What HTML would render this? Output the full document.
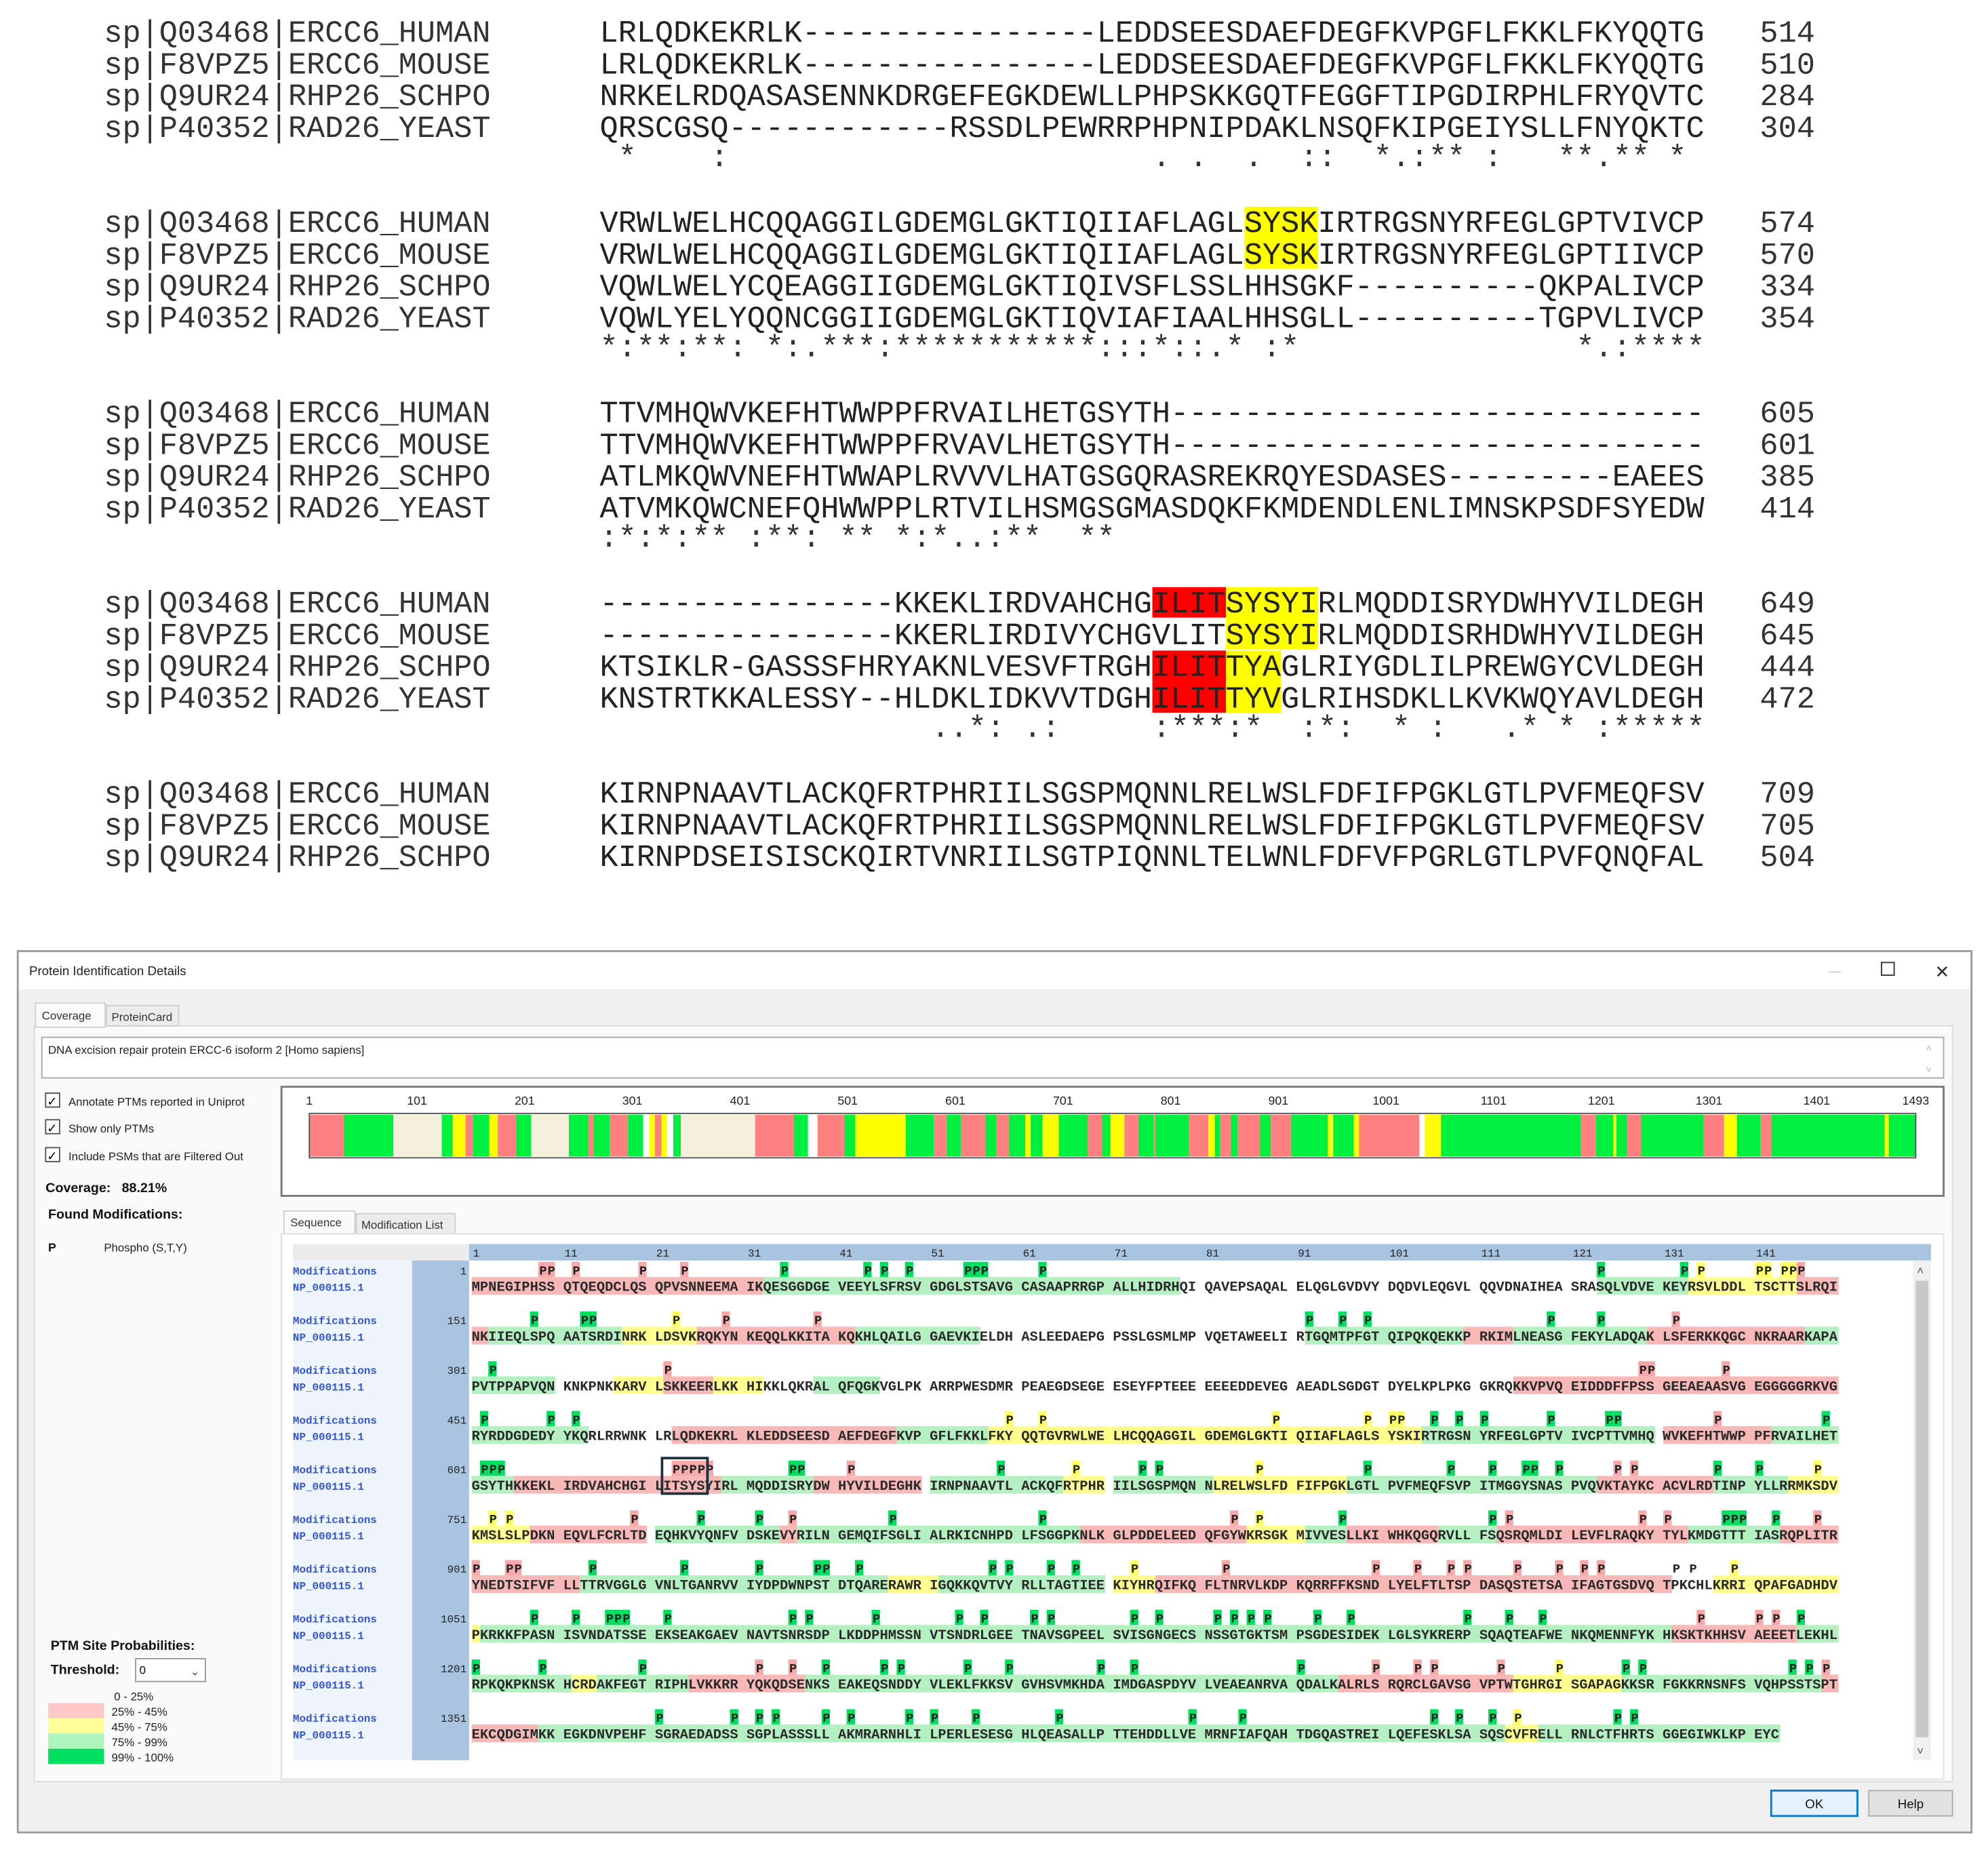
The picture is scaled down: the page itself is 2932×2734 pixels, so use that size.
<!DOCTYPE html>
<html><head><meta charset="utf-8">
<style>
html,body{margin:0;padding:0;background:#fff;}
svg{display:block;}
.mono{font-family:"Liberation Mono",monospace;}
.sans{font-family:"Liberation Sans",sans-serif;}
</style></head>
<body>
<svg id="root" xmlns="http://www.w3.org/2000/svg" width="2932" height="2734" viewBox="0 0 1568 1462" preserveAspectRatio="none">
<rect x="0" y="0" width="1568" height="1462" fill="#fff"/>
<g id="align"></g>
<g id="win">
  <rect x="14" y="750" width="1541" height="695" fill="#f0f0f0" stroke="#9a9a9a" stroke-width="1.5"/>
  <rect x="15" y="751" width="1539" height="29" fill="#fff"/>
  <text x="23" y="769" font-size="10" class="sans" fill="#222">Protein Identification Details</text>
  <text x="1442" y="769" font-size="10" class="sans" fill="#bbb">—</text>
  <rect x="1484" y="759" width="10" height="10" fill="none" stroke="#333"/>
  <text x="1526" y="771" font-size="14" class="sans" fill="#333">✕</text>
  <rect x="27" y="809" width="1513" height="596" fill="#fafafa" stroke="#dadada"/>
  <rect x="28" y="791" width="55" height="19" fill="#fafafa" stroke="#cfcfcf"/>
  <text x="33" y="804" font-size="9" class="sans" fill="#333">Coverage</text>
  <rect x="84" y="793" width="57" height="16" fill="#ececec" stroke="#cfcfcf"/>
  <text x="88" y="805" font-size="9" class="sans" fill="#333">ProteinCard</text>
  <rect x="33" y="818" width="1500" height="32" fill="#fff" stroke="#a8a8a8"/>
  <text x="38" y="831" font-size="9" class="sans" fill="#222">DNA excision repair protein ERCC-6 isoform 2 [Homo sapiens]</text>
  <text x="1519" y="829" font-size="8" class="sans" fill="#bbb">˄</text>
  <text x="1519" y="846" font-size="8" class="sans" fill="#bbb">˅</text>
  <g><rect x="36" y="862" width="11" height="11" fill="#fff" stroke="#555"/><text x="37" y="872" font-size="10" class="sans">✓</text><text x="54" y="872" font-size="9" class="sans" fill="#222">Annotate PTMs reported in Uniprot</text></g>
  <g><rect x="36" y="883" width="11" height="11" fill="#fff" stroke="#555"/><text x="37" y="893" font-size="10" class="sans">✓</text><text x="54" y="893" font-size="9" class="sans" fill="#222">Show only PTMs</text></g>
  <g><rect x="36" y="905" width="11" height="11" fill="#fff" stroke="#555"/><text x="37" y="915" font-size="10" class="sans">✓</text><text x="54" y="915" font-size="9" class="sans" fill="#222">Include PSMs that are Filtered Out</text></g>
  <text x="36" y="940" font-size="10.5" font-weight="bold" class="sans" fill="#111">Coverage:&#160;&#160;&#160;88.21%</text>
  <text x="38" y="961" font-size="10.5" font-weight="bold" class="sans" fill="#111">Found Modifications:</text>
  <text x="38" y="987" font-size="9.5" font-weight="bold" class="sans" fill="#111">P</text>
  <text x="82" y="987" font-size="9" class="sans" fill="#222">Phospho (S,T,Y)</text>
  <text x="40" y="1301" font-size="10.5" font-weight="bold" class="sans" fill="#111">PTM Site Probabilities:</text>
  <text x="40" y="1320" font-size="10.5" font-weight="bold" class="sans" fill="#111">Threshold:</text>
  <rect x="107" y="1308" width="55" height="18" fill="#fff" stroke="#999"/>
  <text x="110" y="1320" font-size="9" class="sans">0</text>
  <text x="150" y="1321" font-size="9" class="sans" fill="#555">⌄</text>
  <g>
    <text x="90" y="1341" font-size="9" class="sans" fill="#222">0 - 25%</text>
    <rect x="38" y="1343" width="44" height="12" fill="#ffc8c8"/><text x="88" y="1353" font-size="9" class="sans" fill="#222">25% - 45%</text>
    <rect x="38" y="1355" width="44" height="12" fill="#ffff99"/><text x="88" y="1365" font-size="9" class="sans" fill="#222">45% - 75%</text>
    <rect x="38" y="1367" width="44" height="12" fill="#aef5be"/><text x="88" y="1377" font-size="9" class="sans" fill="#222">75% - 99%</text>
    <rect x="38" y="1379" width="44" height="12" fill="#00e060"/><text x="88" y="1389" font-size="9" class="sans" fill="#222">99% - 100%</text>
  </g>
  <rect x="222" y="857" width="1311" height="86" fill="#fff" stroke="#777" stroke-width="1.5"/>
  <g id="cov"></g>
  <rect x="224" y="955" width="56" height="18" fill="#fafafa" stroke="#cfcfcf"/>
  <text x="229" y="967" font-size="9" class="sans" fill="#333">Sequence</text>
  <rect x="281" y="957" width="78" height="16" fill="#ececec" stroke="#cfcfcf"/>
  <text x="285" y="969" font-size="9" class="sans" fill="#333">Modification List</text>
  <rect x="222" y="973" width="1311" height="430" fill="#fff" stroke="#ddd"/>
  <rect x="231" y="981" width="139" height="13" fill="#ececec"/>
  <rect x="370" y="981" width="1153" height="13" fill="#a8c4e0"/>
  <rect x="231" y="994" width="94" height="394" fill="#eef5fc"/>
  <rect x="325" y="994" width="45" height="394" fill="#a8c4e0"/>
  <rect x="1509" y="994" width="14" height="394" fill="#f0f0f0"/>
  <rect x="1511" y="1010" width="10" height="360" fill="#c8c8c8"/>
  <text x="1512" y="1005" font-size="9" class="sans" fill="#555">˄</text>
  <text x="1512" y="1384" font-size="9" class="sans" fill="#555">˅</text>
  <g id="seq"></g>
  <rect x="1397" y="1412" width="68" height="20" fill="#e5f1fb" stroke="#0078d7" stroke-width="1.5"/>
  <text x="1431" y="1426" font-size="10" class="sans" text-anchor="middle" fill="#111">OK</text>
  <rect x="1474" y="1412" width="66" height="20" fill="#e1e1e1" stroke="#adadad"/>
  <text x="1507" y="1426" font-size="10" class="sans" text-anchor="middle" fill="#111">Help</text>
</g>
</svg>
<script>
var NS="http://www.w3.org/2000/svg";
function mk(tag,attrs,parent,txt){var e=document.createElementNS(NS,tag);for(var k in attrs)e.setAttribute(k,attrs[k]);if(txt!==undefined)e.textContent=txt;parent.appendChild(e);return e;}

/* ---------- alignment data ---------- */
var blockNames=[
 ["sp|Q03468|ERCC6_HUMAN","sp|F8VPZ5|ERCC6_MOUSE","sp|Q9UR24|RHP26_SCHPO","sp|P40352|RAD26_YEAST"],
 ["sp|Q03468|ERCC6_HUMAN","sp|F8VPZ5|ERCC6_MOUSE","sp|Q9UR24|RHP26_SCHPO","sp|P40352|RAD26_YEAST"],
 ["sp|Q03468|ERCC6_HUMAN","sp|F8VPZ5|ERCC6_MOUSE","sp|Q9UR24|RHP26_SCHPO","sp|P40352|RAD26_YEAST"],
 ["sp|Q03468|ERCC6_HUMAN","sp|F8VPZ5|ERCC6_MOUSE","sp|Q9UR24|RHP26_SCHPO","sp|P40352|RAD26_YEAST"],
 ["sp|Q03468|ERCC6_HUMAN","sp|F8VPZ5|ERCC6_MOUSE","sp|Q9UR24|RHP26_SCHPO"]];
var blockSeqs=[
 ["LRLQDKEKRLK----------------LEDDSEESDAEFDEGFKVPGFLFKKLFKYQQTG","LRLQDKEKRLK----------------LEDDSEESDAEFDEGFKVPGFLFKKLFKYQQTG","NRKELRDQASASENNKDRGEFEGKDEWLLPHPSKKGQTFEGGFTIPGDIRPHLFRYQVTC","QRSCGSQ------------RSSDLPEWRRPHPNIPDAKLNSQFKIPGEIYSLLFNYQKTC"],
 ["VRWLWELHCQQAGGILGDEMGLGKTIQIIAFLAGLSYSKIRTRGSNYRFEGLGPTVIVCP","VRWLWELHCQQAGGILGDEMGLGKTIQIIAFLAGLSYSKIRTRGSNYRFEGLGPTIIVCP","VQWLWELYCQEAGGIIGDEMGLGKTIQIVSFLSSLHHSGKF----------QKPALIVCP","VQWLYELYQQNCGGIIGDEMGLGKTIQVIAFIAALHHSGLL----------TGPVLIVCP"],
 ["TTVMHQWVKEFHTWWPPFRVAILHETGSYTH-----------------------------","TTVMHQWVKEFHTWWPPFRVAVLHETGSYTH-----------------------------","ATLMKQWVNEFHTWWAPLRVVVLHATGSGQRASREKRQYESDASES---------EAEES","ATVMKQWCNEFQHWWPPLRTVILHSMGSGMASDQKFKMDENDLENLIMNSKPSDFSYEDW"],
 ["----------------KKEKLIRDVAHCHGILITSYSYIRLMQDDISRYDWHYVILDEGH","----------------KKERLIRDIVYCHGVLITSYSYIRLMQDDISRHDWHYVILDEGH","KTSIKLR-GASSSFHRYAKNLVESVFTRGHILITTYAGLRIYGDLILPREWGYCVLDEGH","KNSTRTKKALESSY--HLDKLIDKVVTDGHILITTYVGLRIHSDKLLKVKWQYAVLDEGH"],
 ["KIRNPNAAVTLACKQFRTPHRIILSGSPMQNNLRELWSLFDFIFPGKLGTLPVFMEQFSV","KIRNPNAAVTLACKQFRTPHRIILSGSPMQNNLRELWSLFDFIFPGKLGTLPVFMEQFSV","KIRNPDSEISISCKQIRTVNRIILSGTPIQNNLTELWNLFDFVFPGRLGTLPVFQNQFAL"]];
var blockEnds=[["514","510","284","304"],["574","570","334","354"],["605","601","385","414"],["649","645","444","472"],["709","705","504"]];
var blockCons=[
 [[1,"*"],[6,":"],[30,"."],[32,"."],[35,"."],[38,"::"],[42,"*.:**"],[48,":"],[52,"**.**"],[58,"*"]],
 [[0,"*:**:**: *:.***:***********:::*::.* :*"],[53,"*.:****"]],
 [[0,":*:*:** :**: ** *:*..:**  **"]],
 [[18,"..*: .:"],[30,":***:*"],[38,":*:"],[43,"*"],[45,":"],[49,".*"],[52,"*"],[54,":*****"]],
 null];
/* highlights: [block, rowFrom, rowTo, colFrom, colTo, color] */
var highlights=[[1,0,1,35,38,"#ffff00"],[3,0,0,30,33,"#ff0000"],[3,2,3,30,33,"#ff0000"],[3,0,1,34,38,"#ffff00"],[3,2,3,34,36,"#ffff00"]];

var A=document.getElementById('align');
var CW=14.53, X0=473, blockTop=[25,175,325,475,625], rowH=25;
function colX(c){return X0+c*CW;}
highlights.forEach(function(h){
  var r=mk('rect',{x:colX(h[3]),y:blockTop[h[0]]+h[1]*rowH-12,width:(h[4]-h[3]+1)*CW,height:(h[2]-h[1]+1)*rowH-1,fill:h[5]},A);
  
  
});
blockNames.forEach(function(names,b){
  names.forEach(function(n,i){
    var y=blockTop[b]+i*rowH+8;
    var t1=mk('text',{x:82,y:y,'font-size':24.2,'class':'mono',fill:'#333'},A,n);
    
    
    var t2=mk('text',{x:X0,y:y,'font-size':24.2,'class':'mono',fill:'#222'},A,blockSeqs[b][i]);
    
    
    var t3=mk('text',{x:1388,y:y,'font-size':24.2,'class':'mono',fill:'#333'},A,blockEnds[b][i]);
    
    
  });
  if(blockCons[b]){
    var y=blockTop[b]+4*rowH+6;
    blockCons[b].forEach(function(c){
      var t=mk('text',{x:colX(c[0]),y:y,'font-size':24.2,'class':'mono',fill:'#333','xml:space':'preserve'},A,c[1]);
      t.setAttribute('style','white-space:pre');
      
      
    });
  }
});

/* ---------- coverage map data ---------- */
var segStarts=[1,33,79,124,134,146,153,168,176,193,207,242,260,265,280,297,311,317,322,328,333,339,346,415,451,464,473,498,508,555,581,593,606,629,639,651,666,671,682,697,724,737,745,758,771,785,787,818,836,842,847,857,863,884,894,913,947,952,971,976,1032,1037,1052,1182,1196,1212,1215,1225,1238,1296,1315,1327,1349,1359,1464,1468];
var segTypes=["S","G","B","G","Y","S","G","Y","S","G","B","G","S","G","S","G","W","Y","S","Y","W","G","B","S","G","W","S","G","Y","G","S","G","S","G","S","G","Y","G","Y","G","S","G","Y","S","G","S","G","S","Y","G","S","G","S","G","S","G","Y","G","Y","S","W","Y","G","S","G","Y","G","S","G","S","Y","G","S","G","Y","G"];
var seqLength=1493;
var covTicks=[1,101,201,301,401,501,601,701,801,901,1001,1101,1201,1301,1401,1493];
var strong={S:"#ff8080",G:"#00f040",Y:"#ffff00",B:"#f3f1dc",W:"#ffffff"};
var light={S:"#f8b8b8",G:"#b4f0c2",Y:"#ffff90",B:null,W:null};
function covX(r){return 244+(r-1)/(seqLength-1)*1267;}
function typeAt(r){var t="B";for(var i=0;i<segStarts.length;i++){if(segStarts[i]<=r)t=segTypes[i];}return t;}
var C=document.getElementById('cov');
covTicks.forEach(function(t){
  var l=mk('text',{x:covX(t),y:871,'font-size':9.5,'class':'sans','text-anchor':'middle',fill:'#222'},C,String(t));
  
  
});
segStarts.forEach(function(s,i){
  var e=(i+1<segStarts.length?segStarts[i+1]:seqLength);
  var r=mk('rect',{x:covX(s),y:879,width:Math.max(0.5,covX(e)-covX(s)),height:33,fill:strong[segTypes[i]]},C);
  
  
});
mk('rect',{x:244,y:878,width:1267,height:35,fill:'none',stroke:'#555','stroke-width':1},C);

/* ---------- sequence view ---------- */
var sequence="MPNEGIPHSSQTQEQDCLQSQPVSNNEEMAIKQESGGDGEVEEYLSFRSVGDGLSTSAVGCASAAPRRGPALLHIDRHQIQAVEPSAQALELQGLGVDVYDQDVLEQGVLQQVDNAIHEASRASQLVDVEKEYRSVLDDLTSCTTSLRQINKIIEQLSPQAATSRDINRKLDSVKRQKYNKEQQLKKITAKQKHLQAILGGAEVKIELDHASLEEDAEPGPSSLGSMLMPVQETAWEELIRTGQMTPFGTQIPQKQEKKPRKIMLNEASGFEKYLADQAKLSFERKKQGCNKRAARKAPAPVTPPAPVQNKNKPNKKARVLSKKEERLKKHIKKLQKRALQFQGKVGLPKARRPWESDMRPEAEGDSEGEESEYFPTEEEEEEEDDEVEGAEADLSGDGTDYELKPLPKGGKRQKKVPVQEIDDDFFPSSGEEAEAASVGEGGGGGRKVGRYRDDGDEDYYKQRLRRWNKLRLQDKEKRLKLEDDSEESDAEFDEGFKVPGFLFKKLFKYQQTGVRWLWELHCQQAGGILGDEMGLGKTIQIIAFLAGLSYSKIRTRGSNYRFEGLGPTVIVCPTTVMHQWVKEFHTWWPPFRVAILHETGSYTHKKEKLIRDVAHCHGILITSYSYIRLMQDDISRYDWHYVILDEGHKIRNPNAAVTLACKQFRTPHRIILSGSPMQNNLRELWSLFDFIFPGKLGTLPVFMEQFSVPITMGGYSNASPVQVKTAYKCACVLRDTINPYLLRRMKSDVKMSLSLPDKNEQVLFCRLTDEQHKVYQNFVDSKEVYRILNGEMQIFSGLIALRKICNHPDLFSGGPKNLKGLPDDELEEDQFGYWKRSGKMIVVESLLKIWHKQGQRVLLFSQSRQMLDILEVFLRAQKYTYLKMDGTTTIASRQPLITRYNEDTSIFVFLLTTRVGGLGVNLTGANRVVIYDPDWNPSTDTQARERAWRIGQKKQVTVYRLLTAGTIEEKIYHRQIFKQFLTNRVLKDPKQRRFFKSNDLYELFTLTSPDASQSTETSAIFAGTGSDVQTPKCHLKRRIQPAFGADHDVPKRKKFPASNISVNDATSSEEKSEAKGAEVNAVTSNRSDPLKDDPHMSSNVTSNDRLGEETNAVSGPEELSVISGNGECSNSSGTGKTSMPSGDESIDEKLGLSYKRERPSQAQTEAFWENKQMENNFYKHKSKTKHHSVAEEETLEKHLRPKQKPKNSKHCRDAKFEGTRIPHLVKKRRYQKQDSENKSEAKEQSNDDYVLEKLFKKSVGVHSVMKHDAIMDGASPDYVLVEAEANRVAQDALKALRLSRQRCLGAVSGVPTWTGHRGISGAPAGKKSRFGKKRNSNFSVQHPSSTSPTEKCQDGIMKKEGKDNVPEHFSGRAEDADSSSGPLASSSLLAKMRARNHLILPERLESESGHLQEASALLPTTEHDDLLVEMRNFIAFQAHTDGQASTREILQEFESKLSASQSCVFRELLRNLCTFHRTSGGEGIWKLKPEYC";
var ptmSites=[9,10,12,20,24,35,44,46,49,55,56,57,63,124,133,135,141,142,144,145,146,
 158,163,164,173,179,189,242,246,249,269,274,282,
 303,322,429,430,438,
 452,460,462,510,513,539,549,551,552,556,559,561,569,575,576,587,599,
 602,603,604,623,624,625,626,627,636,637,642,659,667,674,676,687,699,708,712,716,717,720,726,728,737,741,748,
 753,755,769,776,782,786,797,813,834,837,846,862,864,879,881,888,889,890,893,898,
 901,905,906,914,924,932,939,940,943,958,960,964,967,973,983,1000,1004,1008,1010,1015,1020,1022,1024,1032,1034,1039,
 1058,1062,1066,1067,1068,1072,1086,1088,1095,1104,1107,1112,1114,1123,1126,1132,1134,1136,1138,1143,1147,1160,1164,1168,1185,1191,1193,1196,1201,
 1209,1220,1232,1236,1240,1246,1248,1255,1260,1270,1273,1291,1300,1304,1306,1313,1320,1327,1329,1345,1347,1349,
 1371,1380,1382,1384,1390,1392,1399,1401,1406,1415,1430,1435,1456,1459,1462,1465,1476,1478,1494];
var rowStarts=[1,151,301,451,601,751,901,1051,1201,1351];
var rulerLabels=[1,11,21,31,41,51,61,71,81,91,101,111,121,131,141];
var SQ=document.getElementById('seq');
var CHW=6.57, BW=72.3, SX=372, G0=1002, GAP=39.2;
function resX(i){return SX+Math.floor(i/10)*BW+(i%10)*CHW;}
rulerLabels.forEach(function(l){
  var t=mk('text',{x:resX(l-1)+1,y:991,'font-size':8.5,'class':'mono',fill:'#222'},SQ,String(l));
  
  
});
rowStarts.forEach(function(rs,k){
  var yM=G0+k*GAP, yS=yM+13;
  var l1=mk('text',{x:231,y:yM+3,'font-size':8.5,'font-weight':'bold','class':'mono',fill:'#3355dd'},SQ,'Modifications');
  
  
  var l2=mk('text',{x:231,y:yS+3,'font-size':8.5,'font-weight':'bold','class':'mono',fill:'#3355dd'},SQ,'NP_000115.1');
  
  
  var n=mk('text',{x:368,y:yM+3,'font-size':8.5,'class':'mono','text-anchor':'end',fill:'#222'},SQ,String(rs));
  
  
  var len=Math.min(150,seqLength-rs+1);
  for(var i=0;i<len;i++){
    var t=typeAt(rs+i); if(!light[t])continue;
    var w=CHW;
    if(i+1<len && typeAt(rs+i+1)===t) w=resX(i+1)-resX(i);
    var r=mk('rect',{x:resX(i),y:yS-8,width:w+0.3,height:14,fill:light[t]},SQ);
    
    
  }
  var txt="";
  for(var j=0;j<len;j+=10){txt+=sequence.substr(rs-1+j,10)+(j+10<len?" ":"");}
  var st=mk('text',{x:SX,y:yS+3,'font-size':10.95,'font-weight':'bold','class':'mono',fill:'#2a2a2a'},SQ,txt);
  st.setAttribute('style','white-space:pre');
  
  
});
ptmSites.forEach(function(p){
  if(p>seqLength)return;
  var k=Math.floor((p-1)/150), i=(p-1)%150, yM=G0+k*GAP;
  var t=typeAt(p);
  var col=t==="G"?"#00e060":(t==="S"?"#f8a8a8":(t==="Y"?"#ffff66":null));
  if(col){
    var b=mk('rect',{x:resX(i),y:yM-7,width:CHW,height:12,fill:col},SQ);
    
    
  }
  var m=mk('text',{x:resX(i)+0.8,y:yM+3,'font-size':10,'font-weight':'bold','class':'mono',fill:'#222'},SQ,'P');
  
  
});
var sel=mk('rect',{x:resX(21)-1,y:G0+4*GAP-9,width:CHW*5+3,height:28,fill:'none',stroke:'#1a3040','stroke-width':2},SQ);


</script>
</body></html>
